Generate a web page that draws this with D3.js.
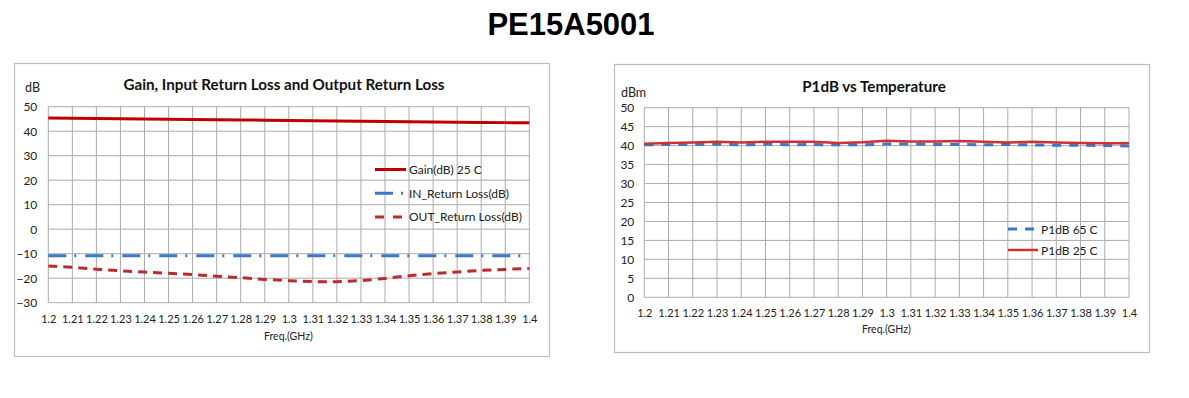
<!DOCTYPE html>
<html><head><meta charset="utf-8">
<script src="https://cdn.jsdelivr.net/npm/d3@7"></script>
<style>body{margin:0;background:#fff}svg{display:block}</style>
</head><body>
<svg id="c" width="1189" height="398"></svg>
<script>
const freqs = [1.2,1.21,1.22,1.23,1.24,1.25,1.26,1.27,1.28,1.29,1.3,1.31,1.32,1.33,1.34,1.35,1.36,1.37,1.38,1.39,1.4];
const freqLabels = ["1.2","1.21","1.22","1.23","1.24","1.25","1.26","1.27","1.28","1.29","1.3","1.31","1.32","1.33","1.34","1.35","1.36","1.37","1.38","1.39","1.4"];
const gain25 = [45.4,45.3,45.2,45.1,45.0,44.9,44.8,44.7,44.6,44.5,44.4,44.3,44.2,44.1,44.0,43.9,43.8,43.7,43.6,43.5,43.4];
const inReturn = [-10.8,-10.8,-10.8,-10.8,-10.8,-10.8,-10.8,-10.8,-10.8,-10.8,-10.8,-10.8,-10.8,-10.8,-10.8,-10.8,-10.8,-10.8,-10.8,-10.8,-10.8];
const outReturn = [-15.0,-15.5,-16.3,-17.0,-17.5,-18.0,-18.5,-19.2,-19.8,-20.5,-21.0,-21.4,-21.4,-21.0,-20.1,-19.0,-18.1,-17.5,-16.8,-16.4,-16.0];
const p1dB65 = [40.2,40.3,40.3,40.4,40.2,40.4,40.2,40.3,40.2,40.2,40.4,40.4,40.3,40.3,40.2,40.3,40.2,40.1,40.1,40.0,39.9];
const p1dB25 = [40.5,40.7,40.8,41.0,40.8,41.0,41.0,41.0,40.7,40.9,41.3,41.1,41.1,41.2,41.0,40.8,41.0,40.8,40.7,40.6,40.6];
const gainTicks = [-30,-20,-10,0,10,20,30,40,50];
const p1dBTicks = [0,5,10,15,20,25,30,35,40,45,50];

const svg = d3.select("#c");
const F = "Lato, 'Open Sans', sans-serif";
const grid = "#ababab";

svg.append("text").attr("x",571).attr("y",35).attr("text-anchor","middle")
  .attr("font-family","'Liberation Sans', Arial, sans-serif").attr("font-weight","bold")
  .attr("font-size",31).text("PE15A5001");

function chart(o){
  const g = svg.append("g");
  g.append("rect").attr("x",o.box[0]+0.5).attr("y",o.box[1]+0.5).attr("width",o.box[2]-o.box[0]).attr("height",o.box[3]-o.box[1])
    .attr("fill","#fff").attr("stroke","#bdbdbd").attr("stroke-width",1.2);
  const x = d3.scaleLinear().domain([1.2,1.4]).range([o.plot[0],o.plot[2]]);
  const y = d3.scaleLinear().domain(o.ydom).range([o.plot[3],o.plot[1]]);
  g.append("g").selectAll("line").data(o.yticks).join("line")
    .attr("x1",o.plot[0]).attr("x2",o.plot[2]).attr("y1",d=>y(d)).attr("y2",d=>y(d))
    .attr("stroke",grid).attr("stroke-width",1);
  g.append("g").selectAll("line").data(freqs).join("line")
    .attr("x1",d=>x(d)).attr("x2",d=>x(d)).attr("y1",o.plot[1]).attr("y2",o.plot[3])
    .attr("stroke",grid).attr("stroke-width",1);
  const yAxis = d3.axisLeft(y).tickValues(o.yticks).tickSize(0).tickPadding(o.ypad);
  const ya = g.append("g").attr("transform",`translate(${o.plot[0]},0)`).call(yAxis);
  ya.select(".domain").remove();
  ya.selectAll("text").attr("font-family",F).attr("font-size",12).attr("fill","#222");
  const xAxis = d3.axisBottom(x).tickValues(freqs).tickSize(0).tickPadding(o.xpad).tickFormat((d,i)=>freqLabels[i]);
  const xa = g.append("g").attr("transform",`translate(0,${o.plot[3]})`).call(xAxis);
  xa.select(".domain").remove();
  xa.selectAll("text").attr("font-family",F).attr("font-size",11).attr("fill","#222");
  g.append("text").attr("x",o.title[0]).attr("y",o.title[1]).attr("text-anchor","middle")
    .attr("font-family",F).attr("font-weight","bold").attr("font-size",15.2).attr("fill","#111").text(o.titleText);
  g.append("text").attr("x",o.unit[0]).attr("y",o.unit[1]).attr("font-family",F).attr("font-size",12.5).attr("fill","#222").text(o.unitText);
  g.append("text").attr("x",o.xl[0]).attr("y",o.xl[1]).attr("font-family",F).attr("font-size",10.5).attr("fill","#222").text("Freq.(GHz)");
  const line = d3.line().x((d,i)=>x(freqs[i])).y(d=>y(d));
  o.series.forEach(s=>{
    g.append("path").datum(s.data).attr("d",line).attr("fill","none").attr("stroke",s.color)
      .attr("stroke-width",s.w).attr("stroke-dasharray",s.dash||null);
  });
  o.series.forEach((s,i)=>{
    const ly = o.leg[1] + i*o.leg[2];
    g.append("line").attr("x1",o.leg[0]).attr("x2",o.leg[0]+o.leg[3]).attr("y1",ly).attr("y2",ly)
      .attr("stroke",s.color).attr("stroke-width",s.w).attr("stroke-dasharray",s.ldash||s.dash||null);
    g.append("text").attr("x",o.leg[0]+o.leg[3]+3).attr("y",ly+4.5).attr("font-family",F).attr("font-size",12).attr("fill","#222").text(s.name);
  });
}

chart({
  box:[14,63,549,356], plot:[48.3,106.7,529.3,302.7], ydom:[-30,50], yticks:gainTicks, ypad:11, xpad:13,
  title:[284,90], titleText:"Gain, Input Return Loss and Output Return Loss",
  unit:[25,92], unitText:"dB", xl:[264,340],
  leg:[375,169.5,23.7,31],
  series:[
    {name:"Gain(dB) 25 C", data:gain25, color:"#c00000", w:3},
    {name:"IN_Return Loss(dB)", data:inReturn, color:"#3a78c9", w:3, dash:"18,8,2,9", ldash:"18,8,2,9"},
    {name:"OUT_Return Loss(dB)", data:outReturn, color:"#c0292b", w:3, dash:"9,6", ldash:"9,9"}
  ]
});
chart({
  box:[614,64,1149,352], plot:[644.3,107.7,1129,297.3], ydom:[0,50], yticks:p1dBTicks, ypad:10, xpad:12,
  title:[874,92], titleText:"P1dB vs Temperature",
  unit:[621,97], unitText:"dBm", xl:[862,333],
  leg:[1008,229,21,30],
  series:[
    {name:"P1dB 65 C", data:p1dB65, color:"#3a78c9", w:3, dash:"9,8", ldash:"9,8"},
    {name:"P1dB 25 C", data:p1dB25, color:"#d03030", w:2.5}
  ]
});
</script>
</body></html>
